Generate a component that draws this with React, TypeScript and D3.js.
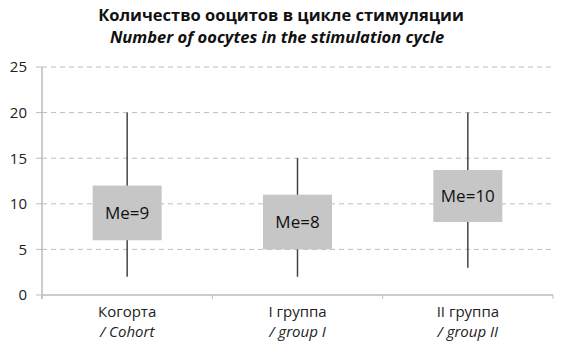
import * as d3 from "d3";

const W = 568;
const H = 354;

const categoriesRu = ["Когорта", "I группа", "II группа"];
const categoriesEn = ["/ Cohort", "/ group I", "/ group II"];
const whiskerMin = [2, 2, 3];
const q1 = [6, 5, 8];
const q3 = [12, 11, 13.7];
const whiskerMax = [20, 15, 20];
const medianLabels = ["Me=9", "Me=8", "Me=10"];
const yTicks = [0, 5, 10, 15, 20, 25];

const FONT = "'Open Sans', 'Noto Sans', sans-serif";
const STRETCH = "88%";

export default function App() {
    const margin = { top: 67, right: 15, bottom: 59, left: 42 };
    const innerW = W - margin.left - margin.right;
    const innerH = H - margin.top - margin.bottom;

    const x = d3.scaleBand<number>().domain(d3.range(categoriesRu.length)).range([0, innerW]);
    const y = d3.scaleLinear().domain([0, 25]).range([innerH, 0]);
    const boxW = 69;

    return (
        <svg width={W} height={H} style={{ position: "absolute", left: 0, top: 0, fontFamily: FONT }}>
            <text x={281} y={21} textAnchor="middle" fontSize={16.5} fontWeight={700} fontStretch={STRETCH} fill="#111">
                Количество ооцитов в цикле стимуляции
            </text>
            <text x={277} y={43} textAnchor="middle" fontSize={16.5} fontWeight={700} fontStyle="italic" fontStretch={STRETCH} fill="#111">
                Number of oocytes in the stimulation cycle
            </text>
            <g transform={`translate(${margin.left},${margin.top})`}>
                {yTicks.filter((t) => t > 0).map((t) => (
                    <line key={t} x1={0} x2={innerW} y1={y(t)} y2={y(t)} stroke="#bdbdbd" strokeWidth={1} strokeDasharray="5,4" />
                ))}
                {yTicks.map((t) => (
                    <g key={t}>
                        <line x1={-6} x2={0} y1={y(t)} y2={y(t)} stroke="#bdbdbd" />
                        <text x={-15} y={y(t)} dy="0.36em" textAnchor="end" fontSize={15} fontStretch={STRETCH} fill="#222">
                            {t}
                        </text>
                    </g>
                ))}
                <line x1={0} x2={0} y1={0} y2={innerH + 4} stroke="#bdbdbd" strokeWidth={1.5} />
                <line x1={0} x2={innerW} y1={innerH} y2={innerH} stroke="#bdbdbd" strokeWidth={1.5} />
                {d3.range(categoriesRu.length + 1).map((i) => {
                    const xx = i < categoriesRu.length ? x(i)! : innerW;
                    return <line key={i} x1={xx} x2={xx} y1={innerH} y2={innerH + 4} stroke="#bdbdbd" />;
                })}
                {categoriesRu.map((c, i) => {
                    const cx = x(i)! + x.bandwidth() / 2;
                    const top = y(q3[i]);
                    const bot = y(q1[i]);
                    return (
                        <g key={c}>
                            <line x1={cx} x2={cx} y1={y(whiskerMax[i])} y2={y(whiskerMin[i])} stroke="#444" strokeWidth={1.5} />
                            <rect x={cx - boxW / 2} y={top} width={boxW} height={bot - top} fill="#c6c6c6" />
                            <text x={cx} y={(top + bot) / 2} dy="0.36em" textAnchor="middle" fontSize={17} fontStretch={STRETCH} fill="#111">
                                {medianLabels[i]}
                            </text>
                            <text x={cx} y={innerH + 22} textAnchor="middle" fontSize={15} fontStretch={STRETCH} fill="#222">
                                {c}
                            </text>
                            <text x={cx} y={innerH + 42} textAnchor="middle" fontSize={15} fontStyle="italic" fontStretch={STRETCH} fill="#222">
                                {categoriesEn[i]}
                            </text>
                        </g>
                    );
                })}
            </g>
        </svg>
    );
}
